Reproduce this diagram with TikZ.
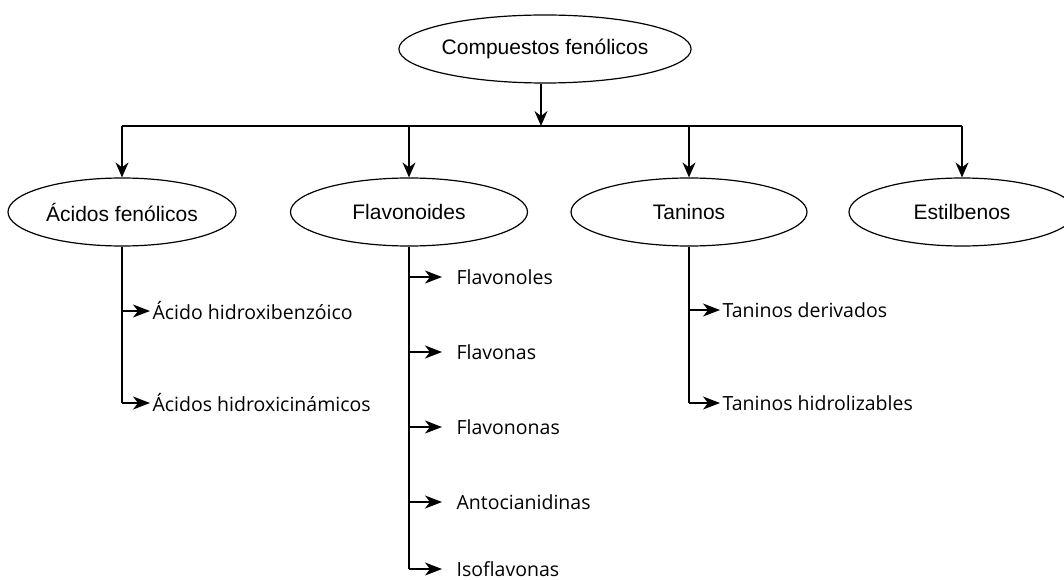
\documentclass[tikz,border=0pt]{standalone}
\usepackage{fontspec}
\setmainfont{Liberation Sans}
\newfontfamily\leaffont{Open Sans}
\usetikzlibrary{shapes.geometric,arrows.meta}
\begin{document}
\begin{tikzpicture}[x=1pt,y=-1pt,
  line width=1.2pt,
  ell/.style={draw,ellipse,inner sep=0pt,minimum height=68pt,font=\fontsize{21}{25}\selectfont},
  leaf/.style={anchor=west,inner ysep=0pt,inner xsep=2pt,font=\leaffont\fontsize{19.5}{23}\selectfont},
  arr/.style={-{Stealth[length=15pt,width=13pt,inset=5pt]}},
  sarr/.style={-{Stealth[length=17pt,width=13pt,inset=5pt]}}
]
\useasboundingbox (0,0) rectangle (1064,580);
\node[ell,minimum width=292pt,minimum height=68pt] (top) at (545,49) {Compuestos fenólicos};
\node[ell,minimum width=228pt] (acid) at (122,212) {Ácidos fenólicos};
\node[ell,minimum width=237pt] (flav) at (409,212) {Flavonoides};
\node[ell,minimum width=236pt] (tan) at (689,212) {Taninos};
\node[ell,minimum width=226pt] (est) at (962,212) {Estilbenos};
\coordinate (bar) at (541,126);
% top connector
\draw[arr] (top.south -| bar) -- (bar);
\draw (acid |- bar) -- (est |- bar);
\foreach \n in {acid,flav,tan,est}{
  \draw[arr] (\n |- bar) -- (\n.north);
}
% acid leaves
\node[leaf] (a1) at (150,311) {Ácido hidroxibenzóico};
\node[leaf] (a2) at (150,403) {Ácidos hidroxicinámicos};
\draw (acid.south) -- (acid.south |- a2);
\foreach \n in {a1,a2}{\draw[sarr] (acid.south |- \n) -- (\n.west);}
% flav leaves
\node[leaf,inner xsep=14pt] (f1) at (442,277) {Flavonoles};
\node[leaf,inner xsep=14pt] (f2) at (442,352) {Flavonas};
\node[leaf,inner xsep=14pt] (f3) at (442,427) {Flavononas};
\node[leaf,inner xsep=14pt] (f4) at (442,502) {Antocianidinas};
\node[leaf,inner xsep=14pt] (f5) at (442,569) {Isoflavonas};
\draw (flav.south) -- (flav.south |- f5);
\foreach \n in {f1,f2,f3,f4,f5}{\draw[sarr] (flav.south |- \n) -- (\n.west);}
% tan leaves
\node[leaf] (t1) at (720,310) {Taninos derivados};
\node[leaf] (t2) at (720,403) {Taninos hidrolizables};
\draw (tan.south) -- (tan.south |- t2);
\foreach \n in {t1,t2}{\draw[sarr] (tan.south |- \n) -- (\n.west);}
\end{tikzpicture}
\end{document}
